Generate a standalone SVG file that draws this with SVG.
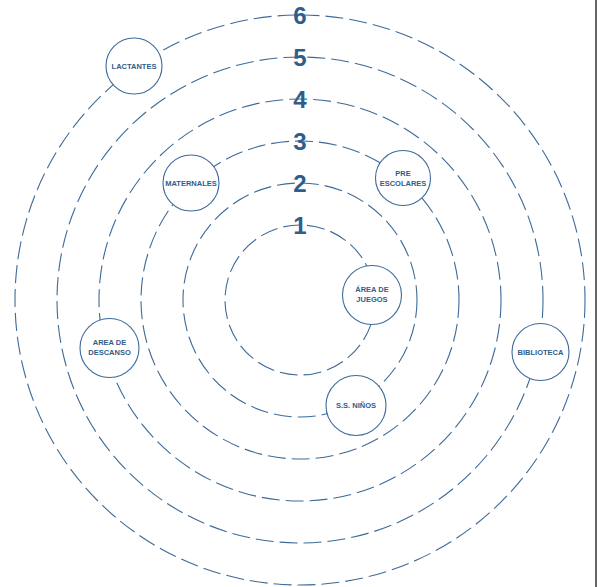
<svg xmlns="http://www.w3.org/2000/svg" width="597" height="587" viewBox="0 0 597 587">
<style>
.ring{fill:none;stroke:#3d6a99;stroke-width:1.1;stroke-dasharray:18 6}
.num{font-family:"Liberation Sans",Arial,sans-serif;font-weight:bold;font-size:24px;fill:#2f5d8c;text-anchor:middle}
.node circle{fill:#fff;stroke:#3d6a99;stroke-width:1.1}
.node text{font-family:"Liberation Sans",Arial,sans-serif;font-weight:bold;font-size:7.5px;fill:#2f5d8c;text-anchor:middle}
</style>
<rect width="597" height="587" fill="#fff"/>
<rect x="595" y="0" width="2" height="587" fill="#666"/>
<g id="connectors">
<circle class="ring" cx="300" cy="300" r="75"/>
<circle class="ring" cx="300" cy="300" r="117"/>
<circle class="ring" cx="300" cy="300" r="159"/>
<circle class="ring" cx="300" cy="300" r="201"/>
<circle class="ring" cx="300" cy="300" r="243"/>
<circle class="ring" cx="300" cy="300" r="285"/>
</g>
<g id="labels">
<text class="num" x="300" y="234">1</text>
<text class="num" x="300" y="192">2</text>
<text class="num" x="300" y="150">3</text>
<text class="num" x="300" y="108">4</text>
<text class="num" x="300" y="66">5</text>
<text class="num" x="300" y="24">6</text>
</g>
<g id="lactantes" class="node"><circle cx="134" cy="66" r="28"/><text x="134" y="68.5">LACTANTES</text></g>
<g id="maternales" class="node"><circle cx="191" cy="183" r="28"/><text x="191" y="185.5">MATERNALES</text></g>
<g id="preescolares" class="node"><circle cx="403" cy="178" r="27.5"/><text x="403" y="175.5">PRE</text><text x="403" y="185.5">ESCOLARES</text></g>
<g id="areajuegos" class="node"><circle cx="372" cy="295" r="29.5"/><text x="372" y="292">ÁREA DE</text><text x="372" y="302">JUEGOS</text></g>
<g id="areadescanso" class="node"><circle cx="109.5" cy="348" r="29.5"/><text x="109.5" y="345">AREA DE</text><text x="109.5" y="355">DESCANSO</text></g>
<g id="ssninos" class="node"><circle cx="356" cy="405.5" r="30"/><text x="356" y="408">S.S. NIÑOS</text></g>
<g id="biblioteca" class="node"><circle cx="540.5" cy="352" r="28.5"/><text x="540.5" y="354.5">BIBLIOTECA</text></g>
</svg>
